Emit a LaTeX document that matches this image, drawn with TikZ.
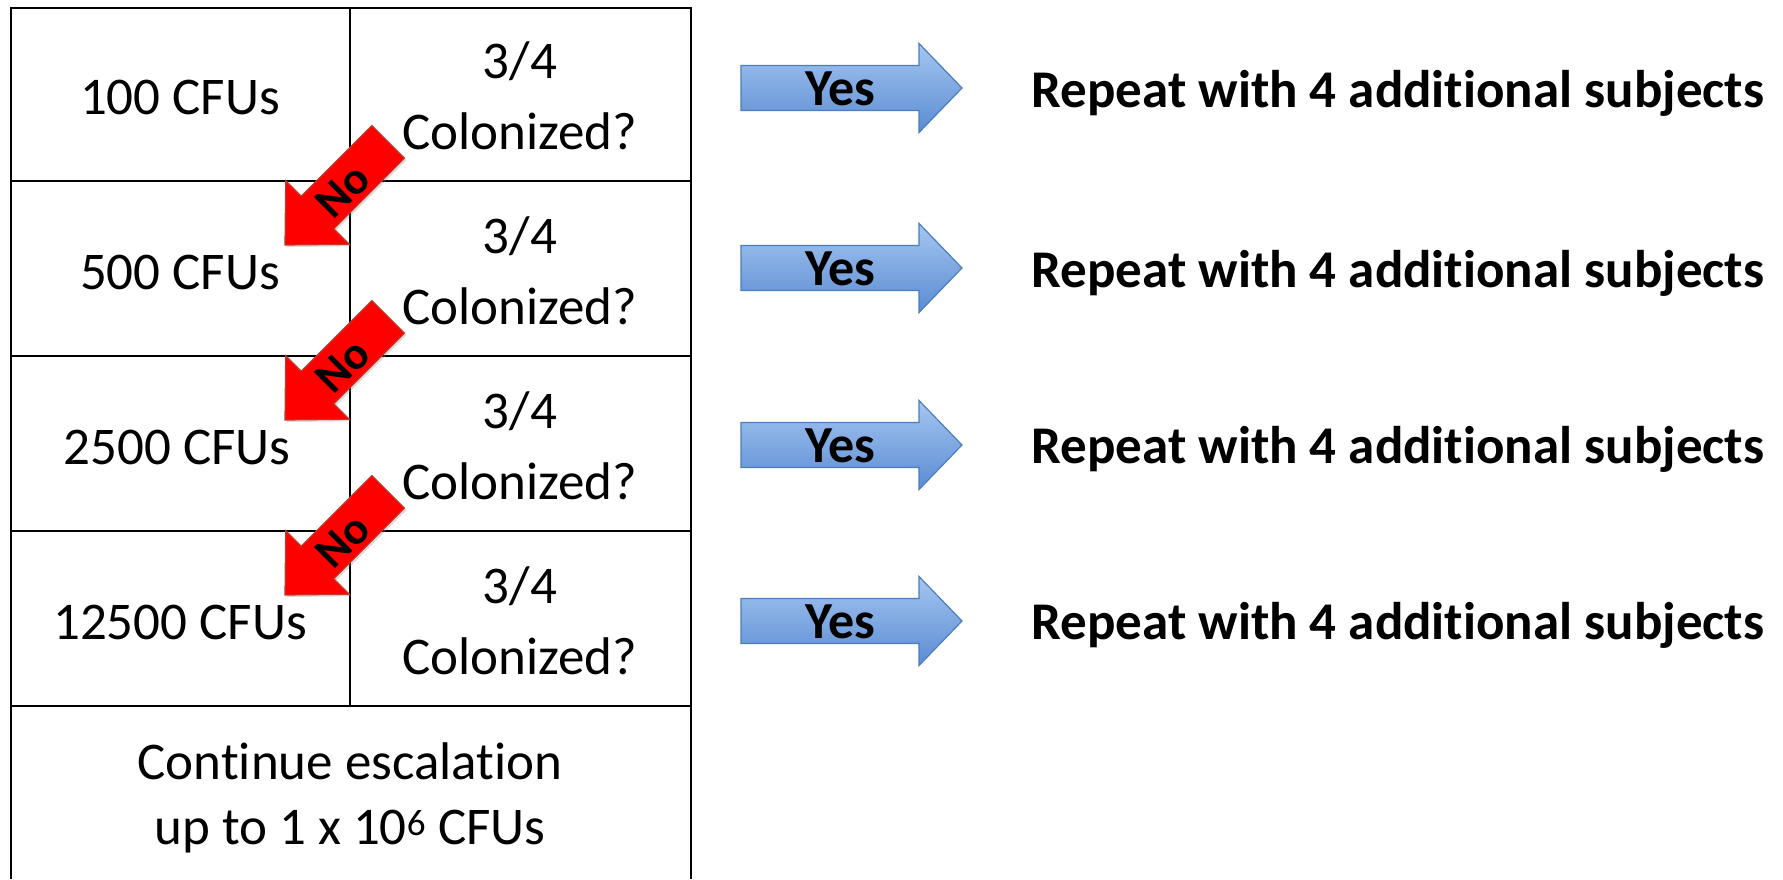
\documentclass[tikz,border=0pt]{standalone}
\usepackage{fontspec}
\setmainfont{Carlito}[Ligatures={NoCommon,NoContextual,NoRare},RawFeature={-liga;-clig;-calt;-dlig}]
\usetikzlibrary{shadows}
\definecolor{bluetop}{HTML}{A5C6F1}
\definecolor{bluebot}{HTML}{5A8BD2}
\definecolor{blueedge}{HTML}{4A7EBB}
\definecolor{redfill}{HTML}{FF0000}
\definecolor{rededge}{HTML}{C0392B}
\tikzset{
  tablegrid/.style={line width=2.5pt, black},
  celltext/.style={font=\fontsize{53}{70.5}\selectfont, align=center, inner sep=0pt},
  yesarrow/.style={draw=blueedge, line width=1.2pt, top color=bluetop, bottom color=bluebot},
  noarrow/.style={draw=rededge, line width=1.2pt, fill=redfill,
    drop shadow={opacity=0.3, shadow xshift=2pt, shadow yshift=-2pt}},
  yestext/.style={font=\bfseries\fontsize{52}{60}\selectfont, inner sep=0pt},
  notext/.style={font=\bfseries\fontsize{46}{52}\selectfont, rotate=45, inner sep=0pt},
  repeattext/.style={font=\bfseries\fontsize{53}{60}\selectfont, inner sep=0pt},
}
\begin{document}
\begin{tikzpicture}[x=1pt,y=-1pt]
\useasboundingbox (0,0) rectangle (1783,879);

% table frame, open at the bottom
\draw[tablegrid] (11,879) -- (11,8) -- (691,8) -- (691,879);
\foreach \ry in {181,356,531,706}
  \draw[tablegrid] (11,\ry) -- (691,\ry);
\draw[tablegrid] (350,8) -- (350,706);

% dose column
\node[celltext] (dose1) at (180,97) {100 CFUs};
\node[celltext] (dose2) at (180,272) {500 CFUs};
\node[celltext] (dose3) at (177,447) {2500 CFUs};
\node[celltext] (dose4) at (180,622) {12500 CFUs};

% question column
\foreach \i/\cy in {1/96,2/271,3/446,4/621}
  \node[celltext] (ask\i) at (520,\cy) {3/4\\Colonized?};

% last row
\node[celltext, font=\fontsize{53}{65}\selectfont] (cont) at (350,798)
  {Continue escalation\\up to 1 x 10\textsuperscript{6} CFUs};

% "Yes" arrows and outcomes
\foreach \i/\cy/\ty in {1/88/93,2/268/273,3/445/449,4/621/625}{
  \draw[yesarrow] (741,\cy-22.5) -- (919,\cy-22.5) -- (919,\cy-44.5) -- (962,\cy)
    -- (919,\cy+44.5) -- (919,\cy+22.5) -- (741,\cy+22.5) -- cycle;
  \node[yestext] (yes\i) at (840,\cy+1) {Yes};
  \node[repeattext] (rep\i) at (1398,\ty) {Repeat with 4 additional subjects};
}

% "No" arrows pointing down-left to the next dose
\foreach \i/\ry in {1/181,2/356,3/531}{
  \begin{scope}[shift={(350,\ry)}]
    \draw[noarrow] (54.5,-22.9) -- (-16.2,47.8) -- (-0.7,63.3) -- (-65,64)
      -- (-64.3,-0.3) -- (-48.8,15.2) -- (21.9,-55.5) -- cycle;
    \node[notext] (no\i) at (-7,10) {No};
  \end{scope}
}
\end{tikzpicture}
\end{document}
